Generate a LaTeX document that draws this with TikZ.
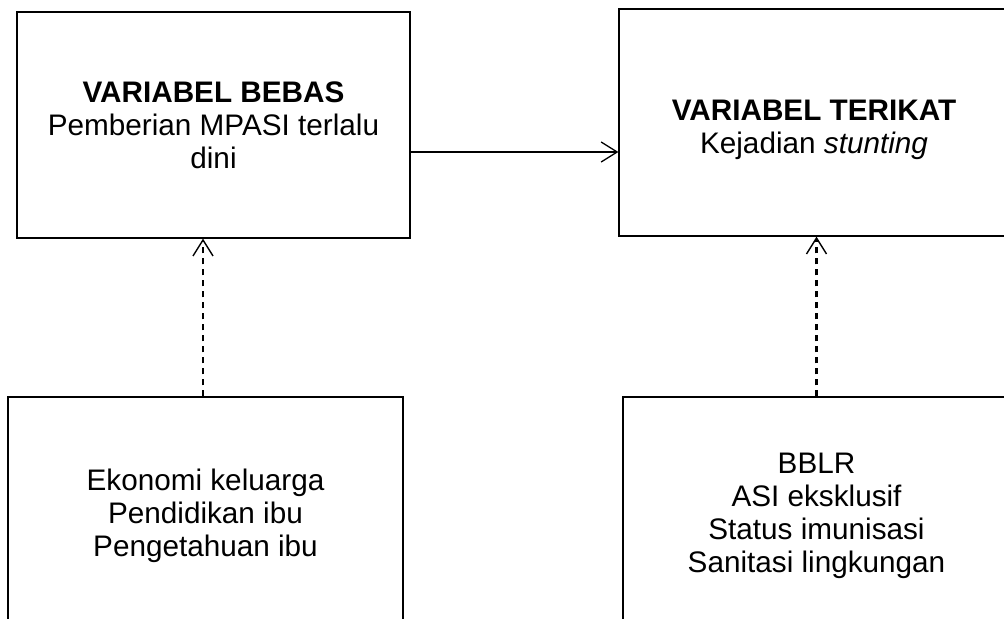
\documentclass[tikz,border=0pt]{standalone}
\usepackage{fontspec}
\setmainfont{Liberation Sans}
\usetikzlibrary{positioning,arrows.meta}

\begin{document}
\begin{tikzpicture}[
    x=0.5pt,y=-0.5pt,
    varbox/.style={draw,line width=0.65pt,minimum width=196.5pt,minimum height=113pt,align=center,inner sep=0pt,font=\fontsize{14.85}{16.5}\selectfont},
    solidarrow/.style={line width=0.6pt,-{Straight Barb[length=8pt,width=10pt,line width=0.65pt]}},
    dasharrow/.style={line width=1.1pt,dash pattern=on 3pt off 2.5pt,-{Straight Barb[length=8pt,width=10pt,line width=0.7pt]}}
  ]
    \useasboundingbox (0,0) rectangle (1004,619);
    \clip (0,0) rectangle (1004,619);

    \node[varbox] (bebas) at (213.5,125) {\textbf{VARIABEL BEBAS}\\Pemberian MPASI terlalu\\dini};
    \node[varbox,minimum width=197pt,minimum height=113.5pt,
      label={[name=terikatteks,align=center,xshift=-1pt,yshift=-3.5pt,font=\fontsize{14.85}{16.5}\selectfont]center:\textbf{VARIABEL TERIKAT}\\Kejadian \textit{stunting}}] (terikat) at (816,122.5) {};
    \node[varbox,minimum width=197.5pt,minimum height=119pt] (faktorA) at (205.5,516) {Ekonomi keluarga\\Pendidikan ibu\\Pengetahuan ibu};
    \node[varbox,minimum width=193.5pt,minimum height=119pt] (faktorB) at (816.5,516) {BBLR\\ASI eksklusif\\Status imunisasi\\Sanitasi lingkungan};

    \coordinate (pangkal) at ([yshift=-13.5pt]bebas.east);
    \draw[solidarrow] (pangkal) -- (pangkal -| terikat.west);
    \draw[dasharrow] ([xshift=-1.25pt]faktorA.north) -- ([xshift=-1.25pt]faktorA.north |- bebas.south);
    \draw[dasharrow] (faktorB.north) -- (faktorB.north |- terikat.south);
  \end{tikzpicture}
\end{document}
